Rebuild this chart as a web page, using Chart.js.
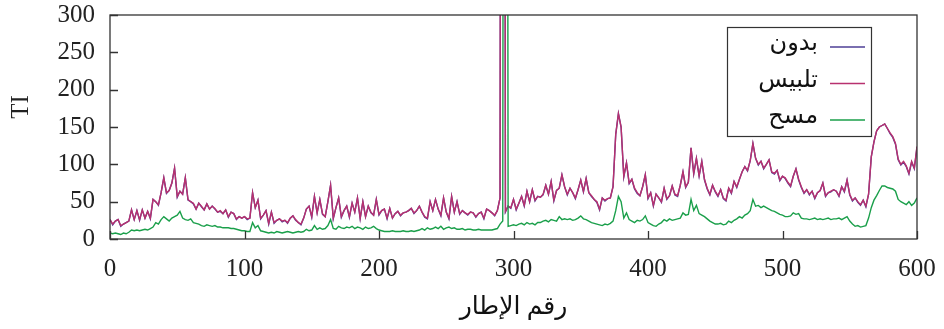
<!DOCTYPE html>
<html>
<head>
<meta charset="utf-8">
<script src="https://cdn.jsdelivr.net/npm/chart.js@4.4.1/dist/chart.umd.min.js"></script>
<style>
html, body { margin: 0; padding: 0; background: #fff; }
#wrap { width: 944px; height: 329px; position: relative; }
</style>
</head>
<body>
<div id="wrap"><canvas id="chart"></canvas></div>
<script>
// frame numbers, every 2nd frame from 0 to 600
var frames = [];
for (var f = 0; f <= 600; f += 2) frames.push(f);

// TI per frame (the 3000 is the off-scale spike)
var bidoun = [
  26,19,24,26,17,20,22,24,39,26,
  38,25,39,28,37,27,53,50,45,62,
  82,61,65,75,95,56,64,60,82,52,
  50,47,40,48,43,39,47,40,44,40,
  36,37,34,39,29,36,34,26,30,28,
  30,26,28,62,42,52,27,32,38,20,
  36,21,25,27,23,25,21,28,31,25,
  22,19,28,40,44,29,57,35,53,33,
  30,50,72,27,42,55,29,38,44,29,
  48,36,55,27,50,30,44,35,32,53,
  32,38,40,27,41,28,34,37,31,35,
  36,38,41,34,38,44,36,29,27,50,
  38,53,40,31,55,36,27,57,36,50,
  33,38,35,32,36,35,29,34,36,27,
  40,38,35,31,38,55,3000,36,44,41,
  53,39,48,57,44,64,50,66,51,57,
  56,59,72,60,77,51,65,68,86,70,
  59,68,62,54,66,79,63,81,62,57,
  53,49,39,55,51,54,55,70,140,168,
  150,83,102,74,80,67,61,58,70,86,
  54,62,44,60,55,49,68,53,58,71,
  59,57,72,90,69,76,122,87,108,84,
  104,79,67,59,72,63,57,66,54,51,
  68,61,77,69,80,90,97,91,105,128,
  108,99,104,94,100,106,89,87,92,78,
  84,81,75,70,84,94,79,69,61,66,
  59,64,54,62,65,75,57,62,63,66,
  64,57,70,63,79,59,51,55,49,45,
  52,43,60,110,130,145,150,152,154,148,
  141,136,127,106,99,103,97,87,103,94,
  123
];

var talbis = [
  26,20,24,26,18,20,22,24,39,26,
  38,26,39,28,37,28,53,50,46,62,
  82,62,65,75,95,57,64,60,82,53,
  50,48,40,48,44,39,47,40,44,41,
  36,38,34,39,30,36,34,27,30,28,
  30,27,28,62,42,52,28,32,38,21,
  36,22,25,27,24,25,22,28,31,26,
  22,20,28,40,44,30,57,35,53,34,
  30,50,72,28,42,55,30,38,44,30,
  48,36,55,28,50,30,44,36,32,53,
  33,38,40,28,41,28,34,37,32,35,
  36,38,41,35,38,44,36,30,28,50,
  38,53,40,32,55,36,28,57,36,50,
  34,38,35,33,36,35,30,34,36,28,
  40,38,35,32,38,55,3000,37,44,42,
  53,40,48,57,45,64,50,66,52,57,
  56,60,72,60,77,52,65,68,86,70,
  60,68,62,55,66,79,64,81,62,58,
  53,50,40,55,52,54,55,70,140,168,
  150,84,102,75,80,68,62,58,70,86,
  55,62,45,60,55,50,68,54,58,71,
  60,58,72,90,70,76,122,88,108,85,
  104,80,68,60,72,64,58,66,55,52,
  68,62,77,70,80,90,97,92,105,128,
  108,100,104,95,100,106,90,88,92,79,
  84,82,76,71,84,94,80,70,62,66,
  60,64,55,62,65,75,58,62,64,66,
  64,58,70,64,79,60,52,55,50,46,
  52,44,60,110,130,145,150,152,154,148,
  142,137,128,107,100,104,98,88,104,95,
  124
];

var masah = [
  8,7,8,7,6,8,7,9,12,11,
  12,11,12,13,12,14,16,22,20,26,
  30,27,24,28,30,32,37,28,26,25,
  27,22,21,20,18,17,19,18,17,18,
  16,16,15,15,15,14,14,13,12,11,
  11,10,10,22,15,18,11,10,9,8,
  9,8,10,9,8,9,10,9,8,9,
  10,9,10,13,11,12,18,13,15,13,
  14,18,26,14,13,17,15,14,16,15,
  17,14,16,15,13,16,14,15,17,14,
  12,11,10,10,10,11,10,10,10,11,
  10,10,11,10,11,12,14,12,15,13,
  14,16,14,17,13,15,16,14,15,13,
  13,14,12,13,13,12,12,13,12,12,
  12,12,12,13,14,20,24,3000,17,18,
  19,18,20,21,19,22,20,21,19,22,
  22,24,25,23,26,25,24,30,26,27,
  26,27,25,26,28,31,27,26,24,22,
  21,20,19,18,20,19,21,24,38,57,
  50,28,35,26,24,22,25,24,26,31,
  22,20,18,17,20,22,26,24,27,25,
  26,27,28,35,32,33,53,38,45,34,
  32,30,27,24,22,20,20,21,19,20,
  24,22,25,27,30,28,32,34,38,53,
  44,45,42,44,42,40,38,37,35,33,
  32,30,30,31,35,33,34,28,27,27,
  26,27,28,26,27,26,27,28,26,27,
  27,28,26,28,30,24,20,17,18,16,
  17,18,28,42,52,58,65,71,71,69,
  68,67,64,53,50,48,46,50,45,48,
  55
];

var seriesLabels = ['بدون', 'تلبيس', 'مسح'];
var seriesColors = ['#4e3f96', '#b8316f', '#1a9f4a'];
var xTicks = [0, 100, 200, 300, 400, 500, 600];
var yTicks = [0, 50, 100, 150, 200, 250, 300];
var xTitle = 'رقم الإطار';
var yTitle = 'TI';

var FONT = "'Liberation Serif', 'DejaVu Serif', 'DejaVu Sans', serif";

function points(values) {
  return frames.map(function(fr, i) { return { x: fr, y: values[i] }; });
}

// box round the plot, inward ticks, y title and the legend box
var gnuplotLook = {
  id: 'gnuplotLook',
  afterDatasetsDraw: function(chart) {
    var ctx = chart.ctx, a = chart.chartArea;
    var xs = chart.scales.x, ys = chart.scales.y;
    ctx.save();
    ctx.strokeStyle = '#333';
    ctx.lineWidth = 1.3;
    ctx.strokeRect(a.left, a.top, a.right - a.left, a.bottom - a.top);
    ctx.beginPath();
    xTicks.forEach(function(t) {
      var px = Math.round(xs.getPixelForValue(t)) + 0.5;
      ctx.moveTo(px, a.bottom);
      ctx.lineTo(px, a.bottom - 8);
    });
    yTicks.forEach(function(t) {
      var py = Math.round(ys.getPixelForValue(t)) + 0.5;
      ctx.moveTo(a.left, py);
      ctx.lineTo(a.left + 8, py);
    });
    ctx.stroke();

    // y title
    ctx.save();
    ctx.translate(21, 107);
    ctx.rotate(-Math.PI / 2);
    ctx.font = '25px ' + FONT;
    ctx.fillStyle = '#222';
    ctx.textAlign = 'center';
    ctx.textBaseline = 'middle';
    ctx.fillText(yTitle, 0, 0);
    ctx.restore();

    // legend
    var lx = 727, ly = 27, lw = 144, lh = 109;
    ctx.fillStyle = '#fff';
    ctx.fillRect(lx, ly, lw, lh);
    ctx.strokeStyle = '#333';
    ctx.lineWidth = 1.2;
    ctx.strokeRect(lx + 0.5, ly + 0.5, lw, lh);
    ctx.font = '24px ' + FONT;
    ctx.textAlign = 'right';
    ctx.textBaseline = 'middle';
    chart.data.datasets.forEach(function(ds, i) {
      var rowY = 46 + i * 36.5;
      ctx.fillStyle = '#111';
      ctx.fillText(ds.label, 818, rowY - 2);
      ctx.strokeStyle = ds.borderColor;
      ctx.lineWidth = 1.5;
      ctx.beginPath();
      ctx.moveTo(830, rowY + 1);
      ctx.lineTo(865, rowY + 1);
      ctx.stroke();
    });
    ctx.restore();
  }
};

new Chart(document.getElementById('chart'), {
  type: 'line',
  data: {
    datasets: [
      { label: seriesLabels[0], data: points(bidoun), borderColor: seriesColors[0], order: 3 },
      { label: seriesLabels[1], data: points(talbis), borderColor: seriesColors[1], order: 2 },
      { label: seriesLabels[2], data: points(masah), borderColor: seriesColors[2], order: 1 }
    ]
  },
  options: {
    responsive: true,
    maintainAspectRatio: false,
    animation: false,
    layout: { padding: { top: 15, right: 27, left: 0, bottom: 0 } },
    elements: {
      point: { radius: 0 },
      line: { borderWidth: 1.4, tension: 0, fill: false }
    },
    plugins: { legend: { display: false }, tooltip: { enabled: false } },
    scales: {
      x: {
        type: 'linear',
        min: 0,
        max: 600,
        grid: { display: false, drawTicks: false },
        border: { display: false },
        ticks: { stepSize: 100, color: '#222', padding: 15, font: { family: FONT, size: 25 } },
        title: { display: true, text: xTitle, color: '#111', padding: { top: 4, bottom: 7 }, font: { family: FONT, size: 25 } },
        afterFit: function(scale) {
          scale.height = 90;
          scale.paddingLeft = 0;
          scale.paddingRight = 0;
        }
      },
      y: {
        min: 0,
        max: 300,
        grid: { display: false, drawTicks: false },
        border: { display: false },
        ticks: { stepSize: 50, color: '#222', padding: 15, font: { family: FONT, size: 25 } },
        afterFit: function(scale) {
          scale.width = 110;
          scale.paddingTop = 0;
          scale.paddingBottom = 0;
        }
      }
    }
  },
  plugins: [gnuplotLook]
});
</script>
</body>
</html>
